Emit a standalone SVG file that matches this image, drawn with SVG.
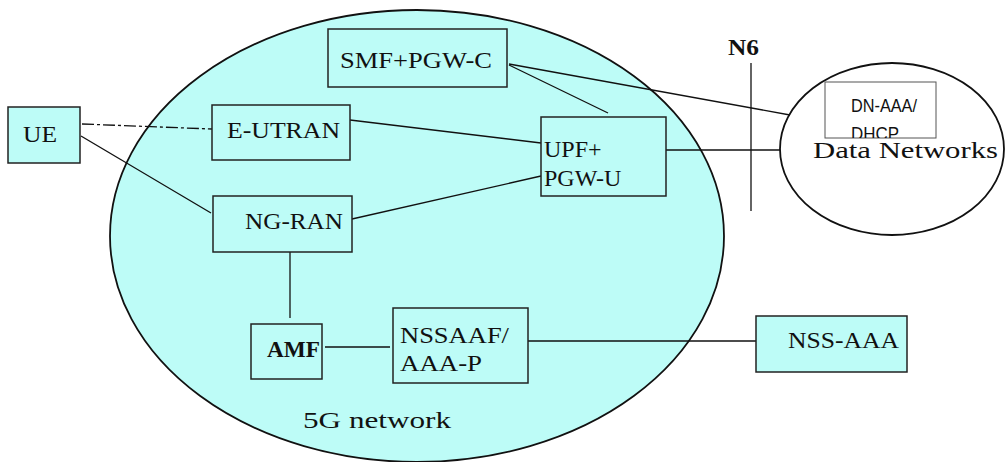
<svg xmlns="http://www.w3.org/2000/svg" width="1005" height="462" viewBox="0 0 1005 462">
<style>
.box{fill:#bdfcf7;stroke:#222;stroke-width:1.5}
.t{font-family:"Liberation Serif",serif;font-size:24px;fill:#111}
.s{font-family:"Liberation Sans",sans-serif;font-size:18px;fill:#111}
.c{fill:none;stroke:#111;stroke-width:1.3}
</style>
<defs>
<clipPath id="dnclip"><rect x="825" y="82" width="111" height="56"/></clipPath>
</defs>
<g id="network5g">
<ellipse cx="417" cy="236" rx="307" ry="226" fill="#bdfcf7" stroke="#111" stroke-width="1.8"/>
<text class="t" x="303" y="428" font-size="29" textLength="148" lengthAdjust="spacingAndGlyphs">5G network</text>
</g>
<g id="datanetworks">
<ellipse cx="892" cy="149" rx="112" ry="86" fill="#fff" stroke="#111" stroke-width="1.8"/>
<text class="t" x="813" y="158" font-size="30" textLength="185" lengthAdjust="spacingAndGlyphs">Data Networks</text>
</g>
<g id="connectors">
<path class="c" d="M82,124 L212,129" stroke-width="2.5" stroke-dasharray="12,3,3,3"/>
<path class="c" d="M81,136 L211,213"/>
<path class="c" d="M350,120 L541,143"/>
<path class="c" d="M352,219 L541,176"/>
<path class="c" d="M509,65 L608,113"/>
<path class="c" d="M509,64 L790,115" stroke-width="2"/>
<path class="c" d="M666,150 L780,150" stroke-width="3"/>
<path class="c" d="M290,252 L290,318"/>
<path class="c" d="M325,347 L390,347"/>
<path class="c" d="M528,341 L756,341" stroke-width="1.5"/>
<path class="c" d="M751,63 L751,211" stroke-width="4"/>
<text class="t" x="728" y="55" font-size="21" font-weight="bold" textLength="31" lengthAdjust="spacingAndGlyphs">N6</text>
</g>
<g id="smf">
<rect class="box" x="328" y="29" width="179" height="58"/>
<text class="t" x="340" y="68" font-size="23" textLength="152" lengthAdjust="spacingAndGlyphs">SMF+PGW-C</text>
</g>
<g id="ue">
<rect class="box" x="8" y="107" width="72" height="56" stroke-width="2"/>
<text class="t" x="23" y="142" font-size="26" textLength="34" lengthAdjust="spacingAndGlyphs">UE</text>
</g>
<g id="eutran">
<rect class="box" x="212" y="105" width="138" height="55"/>
<text class="t" x="227" y="138" font-size="25.5" textLength="113" lengthAdjust="spacingAndGlyphs">E-UTRAN</text>
</g>
<g id="ngran">
<rect class="box" x="213" y="196" width="139" height="56"/>
<text class="t" x="245" y="229" font-size="24.5" textLength="98" lengthAdjust="spacingAndGlyphs">NG-RAN</text>
</g>
<g id="upf">
<rect class="box" x="541" y="117" width="125" height="79"/>
<text class="t" x="544" y="157" font-size="23.5">UPF+</text>
<text class="t" x="544" y="186" font-size="23.5">PGW-U</text>
</g>
<g id="dnaaa">
<rect x="825" y="82" width="111" height="56" fill="#fff" stroke="#555" stroke-width="1"/>
<g clip-path="url(#dnclip)">
<text class="s" x="851" y="112" textLength="66" lengthAdjust="spacingAndGlyphs">DN-AAA/</text>
<text class="s" x="851" y="140" textLength="48" lengthAdjust="spacingAndGlyphs">DHCP</text>
</g>
</g>
<g id="amf">
<rect class="box" x="251" y="324" width="71" height="55"/>
<text class="t" x="267" y="357" font-weight="bold" font-size="23" textLength="53" lengthAdjust="spacingAndGlyphs">AMF</text>
</g>
<g id="nssaaf">
<rect class="box" x="393" y="308" width="135" height="75"/>
<text class="t" x="400" y="343" font-size="24" textLength="109" lengthAdjust="spacingAndGlyphs">NSSAAF/</text>
<text class="t" x="400" y="371" font-size="24" textLength="82" lengthAdjust="spacingAndGlyphs">AAA-P</text>
</g>
<g id="nssaaa">
<rect class="box" x="756" y="316" width="151" height="56" stroke-width="2"/>
<text class="t" x="788" y="348" font-size="24" textLength="111" lengthAdjust="spacingAndGlyphs">NSS-AAA</text>
</g>
</svg>
